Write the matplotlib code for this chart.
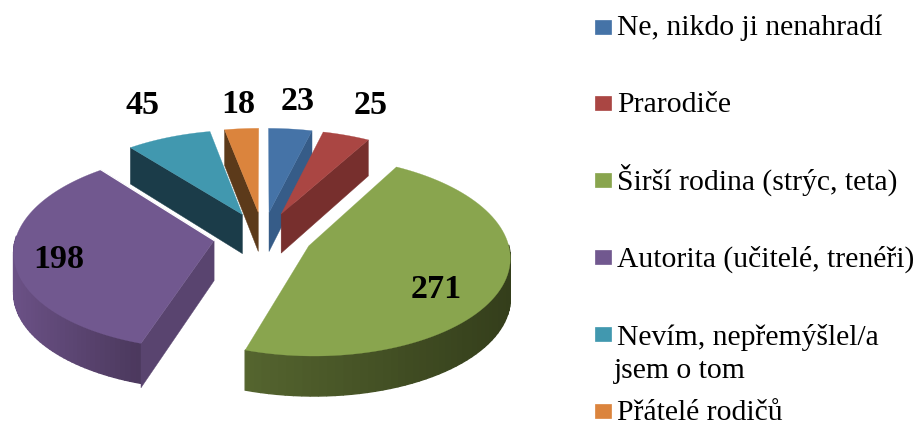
import numpy as np
import matplotlib
matplotlib.use("Agg")
import matplotlib.pyplot as plt
from matplotlib.colors import to_rgb

# data
categories = ["Ne, nikdo ji nenahradí", "Prarodiče", "Širší rodina (strýc, teta)",
              "Autorita (učitelé, trenéři)", "Nevím, nepřemýšlel/a\njsem o tom", "Přátelé rodičů"]
values = [23, 25, 271, 198, 45, 18]

top_colors = ["#4573A7", "#AA4643", "#89A54E", "#71588F", "#4198AF", "#DB843D"]
face_colors = ["#365C88", "#772F2D", "#3F4A22", "#59446F", "#1B3C49", "#5C3A1A"]
wall_light = ["#365C88", "#772F2D", "#55652F", "#6B5186", "#1B3C49", "#5C3A1A"]
wall_dark = ["#365C88", "#772F2D", "#343E1B", "#4C395E", "#1B3C49", "#5C3A1A"]

# label centres and baselines, in pixels
label_pos = [(298, 110), (371, 114), (436, 298), (59, 268), (143, 114), (238, 113)]
legend_y = [27, 103, 180, 257, 334, 411]
legend_base = [35, 112, 190, 267, 345, 420]

# projection settings, in pixels
cx, cy = 263, 236
rx, ry = 198, 97
explode = 0.25
persp = 0.1
depth = 40


def project(X, Y, drop=0.0):
    s = 1 / (1 + persp * Y)
    return cx + rx * X * s, cy - ry * Y * s + drop * s


plt.rcParams["font.family"] = ["Liberation Serif", "DejaVu Serif"]
fig = plt.figure(figsize=(9.15, 4.21), dpi=100)
ax = fig.add_axes([0, 0, 1, 1])
ax.set_xlim(0, 915)
ax.set_ylim(421, 0)
ax.axis("off")

angles = np.cumsum([0] + values) / sum(values) * 2 * np.pi

# painter's order: back slices first
for i in [5, 4, 0, 1, 3, 2]:
    a, b = angles[i], angles[i + 1]
    mid = (a + b) / 2
    ox, oy = explode * np.sin(mid), explode * np.cos(mid)
    th = np.linspace(a, b, 80)
    X = ox + np.sin(th)
    Y = oy + np.cos(th)

    # outer wall, shaded from left to right
    px, py = project(X, Y)
    light, dark = np.array(to_rgb(wall_light[i])), np.array(to_rgb(wall_dark[i]))
    for j in range(len(th) - 1):
        if np.cos(th[j]) < 0.02:
            qx = [px[j], px[j + 1], px[j + 1], px[j]]
            qy = [py[j], py[j + 1], py[j + 1] + depth, py[j] + depth]
            t = (px[j] - px.min()) / (px.max() - px.min())
            if i == 3:
                t = np.clip((px[j] - 13) / 125, 0, 1)
            ax.fill(qx, qy, color=light * (1 - t) + dark * t, lw=1.0, zorder=i)

    # cut faces that look towards the viewer
    for edge, visible in [(a, np.sin(a) < 0), (b, np.sin(b) > 0)]:
        if visible:
            ex, ey = ox + np.sin(edge), oy + np.cos(edge)
            p = [project(ox, oy), project(ex, ey), project(ex, ey, depth), project(ox, oy, depth)]
            ax.fill(*zip(*p), color=face_colors[i], lw=0.3, zorder=i)

    # top of the slice
    tx, ty = project(np.r_[ox, X], np.r_[oy, Y])
    ax.fill(tx, ty, color=top_colors[i], lw=0.2, zorder=i)
    if i == 3:
        ax.plot([tx[0], tx[-1]], [ty[0], ty[-1]], color="white", lw=0.9, zorder=i)

for v, (x, y) in zip(values, label_pos):
    ax.text(x, y, str(v), ha="center", va="baseline", fontsize=24.5, fontweight="bold", color="black", zorder=10)

# legend
for name, color, y, base in zip(categories, top_colors, legend_y, legend_base):
    ax.fill([595, 611, 611, 595], [y - 7, y - 7, y + 7, y + 7], color=color, lw=0.5, zorder=10)
    lines = name.split("\n")
    ax.text(617, base, lines[0], ha="left", va="baseline", fontsize=21.3, color="black", zorder=10)
    if len(lines) > 1:
        ax.text(614, base + 33, lines[1], ha="left", va="baseline", fontsize=21.3, color="black", zorder=10)

fig.savefig("out.png", dpi=100)
